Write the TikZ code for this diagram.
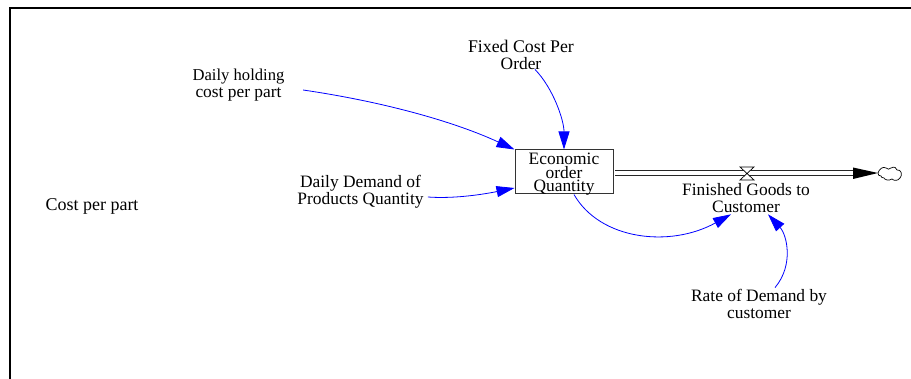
\documentclass[tikz,border=0pt]{standalone}
\usepackage{fontspec}
\setmainfont{Liberation Serif}
\usetikzlibrary{arrows.meta}
\definecolor{linkblue}{RGB}{0,0,255}
\tikzset{
  x=1pt,y=-1pt,
  lbl/.style={align=center,font=\fontsize{17.4}{17}\selectfont,inner sep=0pt},
  stockbox/.style={draw=black!80,line width=1pt,minimum width=98pt,minimum height=44pt,inner sep=0pt,align=center,font=\fontsize{17.4}{13.5}\selectfont},
  linkarrow/.style={draw=linkblue,line width=0.8pt,-{Triangle[length=18pt,width=11pt,color=linkblue]}},
  frameline/.style={line width=2pt,black},
  pipeline/.style={line width=0.9pt,black!85}
}
\begin{document}
\begin{tikzpicture}
\useasboundingbox (0,0) rectangle (911,379);
\fill[white] (0,0) rectangle (911,379);
\draw[frameline] (911,8) -- (9.5,8) -- (9.5,379);
\node[stockbox,text depth=0pt] (eoq) at (564,172) {\raisebox{-0.8pt}{Economic}\\\raisebox{-0.8pt}{order}\\\raisebox{-0.8pt}{Quantity}};
\node[lbl] (hold) at (238.5,85.5) {\fontsize{16.6}{17}\selectfont Daily holding\\cost per part};
\node[lbl] (fixed) at (521,54.5) {\fontsize{17.8}{17}\selectfont Fixed Cost Per\\Order};
\node[lbl] (demand) at (360.5,191.5) {Daily Demand of\\Products Quantity};
\node[lbl] (flow) at (746,198.5) {Finished Goods to\\Customer};
\node[lbl] (rate) at (759,303.5) {Rate of Demand by\\customer};
\node[lbl] (cost) at (92,206.5) {\fontsize{18}{17}\selectfont Cost per part};
\coordinate (pipeA) at (615,170.5);
\coordinate (pipeB) at (615,175);
\coordinate (valve) at (746,173);
\coordinate (tip) at (878,173);
\draw[pipeline] (pipeA) -- (856,170.5);
\draw[pipeline] (pipeB) -- (856,175);
\fill[black] (853,167.5) -- (tip) -- (853,179) -- cycle;
\draw[black,line width=0.7pt,fill=white] (740,167) -- (754,167) -- (740,180) -- (754,180) -- cycle;
\draw[black,line width=0.7pt,fill=white] (878,173) .. controls (879,169) and (883,166) .. (886,168)
  .. controls (888,169) and (889,170) .. (891,168)
  .. controls (894,166) and (897,168) .. (897,170)
  .. controls (901,169) and (903,175) .. (900,178)
  .. controls (898,181) and (894,181) .. (892,179)
  .. controls (889,181) and (885,180) .. (884,178)
  .. controls (882,178) and (881,177) .. (881,176)
  .. controls (879,176) and (878,175) .. (878,173) -- cycle;
\draw[linkarrow] ([xshift=18.5pt,yshift=-4.5pt]hold.east) .. controls (385,102) and (455,122) .. (eoq.north west);
\draw[linkarrow] ([xshift=14pt,yshift=0pt]fixed.south) .. controls (553,88) and (564,120) .. (eoq.north);
\draw[linkarrow] ([xshift=4pt,yshift=-5.5pt]demand.east) .. controls (455,199) and (485,194) .. ([yshift=-16pt]eoq.west);
\draw[linkarrow] ([xshift=10pt]eoq.south) .. controls (600,240) and (670,248) .. ([xshift=-15pt,yshift=-1pt]flow.south);
\draw[linkarrow] ([xshift=16pt,yshift=1pt]rate.north) .. controls (794,265) and (787,235) .. ([xshift=22pt,yshift=-1pt]flow.south);
\end{tikzpicture}
\end{document}
